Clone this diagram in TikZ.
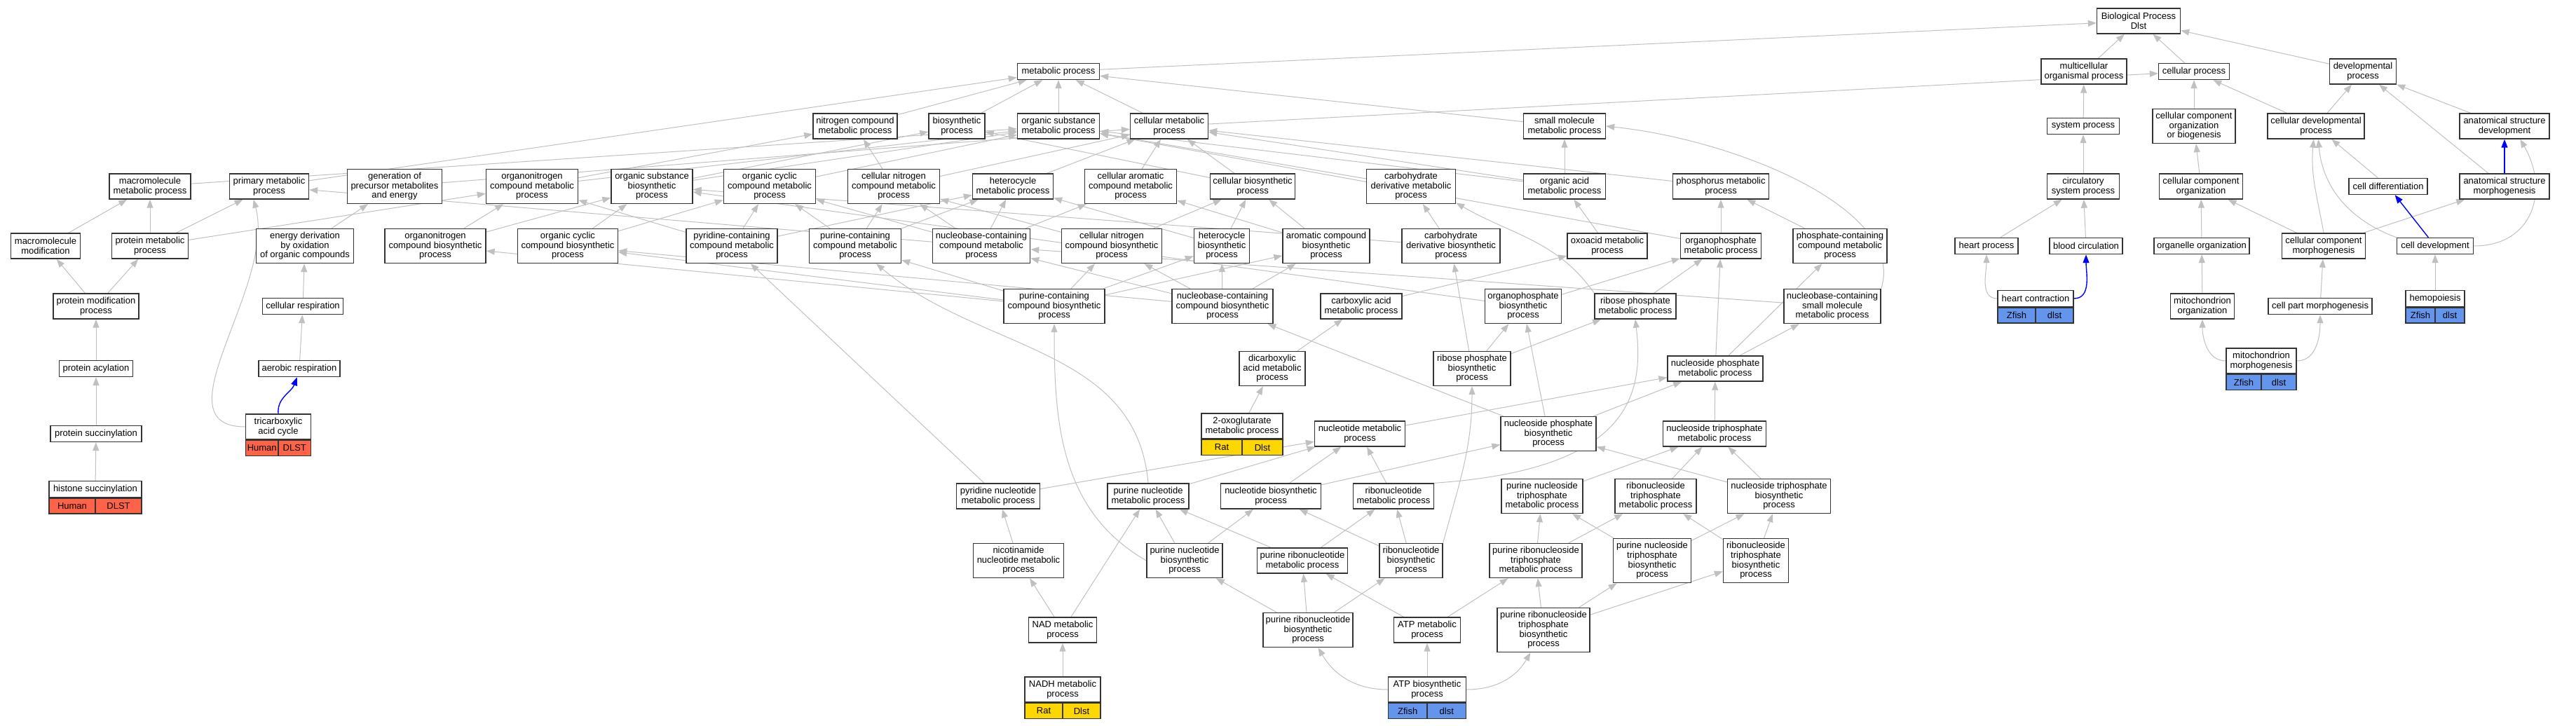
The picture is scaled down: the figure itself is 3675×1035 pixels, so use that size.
\documentclass[tikz,border=0pt]{standalone}
\usepackage{fontspec}
\setmainfont{Liberation Sans}
\usetikzlibrary{arrows.meta,backgrounds,positioning}

\definecolor{humanred}{HTML}{FF6347}
\definecolor{ratgold}{HTML}{FFD700}
\definecolor{zfishblue}{HTML}{6495ED}
\definecolor{edgegray}{HTML}{C0C0C0}
\newcommand\gofont{\fontsize{6.5}{6.8}\selectfont}

\tikzset{
  term/.style={draw=black!80, line width=0.7pt, fill=white, align=center, inner sep=0pt, font=\gofont},
  wd/.style={minimum width=#1*0.5pt},
  l1/.style={minimum height=11.5pt},
  l2/.style={minimum height=18pt},
  l3/.style={minimum height=24.5pt},
  l4/.style={minimum height=31.5pt},
  genecell/.style={term, minimum height=11pt},
  human/.style={genecell, fill=humanred},
  rat/.style={genecell, fill=ratgold},
  zfish/.style={genecell, fill=zfishblue},
  isa/.style={draw=edgegray, line width=0.5pt, -{Triangle[length=6pt,width=4.5pt]}},
  partof/.style={draw=blue, line width=0.7pt, -{Triangle[length=6pt,width=4.5pt]}},
}

\begin{document}
\begin{tikzpicture}[x=0.5pt, y=-0.5pt]
\useasboundingbox (0,0) rectangle (3675,1035);

% top
\node[term, wd=119, l2] (bp) at (3051,30) {Biological Process\\Dlst};
\node[term, wd=117, l1] (metab) at (1510,102) {metabolic process};
\node[term, wd=122, l2] (multi) at (2973,102) {multicellular\\organismal process};
\node[term, wd=101, l1] (cellp) at (3130,102) {cellular process};
\node[term, wd=95, l2] (devp) at (3371,102) {developmental\\process};

\node[term, wd=120, l2] (nitro) at (1220,180) {nitrogen compound\\metabolic process};
\node[term, wd=80, l2] (biosyn) at (1365,180) {biosynthetic\\process};
\node[term, wd=117, l2] (orgsub) at (1510,180) {organic substance\\metabolic process};
\node[term, wd=111, l2] (cellmet) at (1668,180) {cellular metabolic\\process};
\node[term, wd=117, l2] (smallmol) at (2232,180) {small molecule\\metabolic process};
\node[term, wd=103, l1] (sysp) at (2972,180) {system process};
\node[term, wd=118, l3] (ccob) at (3130,180) {cellular component\\organization\\or biogenesis};
\node[term, wd=138, l2] (celldev) at (3304,180) {cellular developmental\\process};
\node[term, wd=128, l2] (asdev) at (3573,180) {anatomical structure\\development};

\node[term, wd=116, l2] (macro) at (214,266) {macromolecule\\metabolic process};
\node[term, wd=113, l2] (primary) at (384,266) {primary metabolic\\process};
\node[term, wd=135, l3] (genprec) at (563,266) {generation of\\precursor metabolites\\and energy};
\node[term, wd=131, l3] (orgnmet) at (759,266) {organonitrogen\\compound metabolic\\process};
\node[term, wd=116, l3] (orgsubbio) at (930,266) {organic substance\\biosynthetic\\process};
\node[term, wd=131, l3] (orgcycmet) at (1098,266) {organic cyclic\\compound metabolic\\process};
\node[term, wd=131, l3] (cnitmet) at (1275,266) {cellular nitrogen\\compound metabolic\\process};
\node[term, wd=115, l2] (hetmet) at (1445,266) {heterocycle\\metabolic process};
\node[term, wd=131, l3] (caromet) at (1613,266) {cellular aromatic\\compound metabolic\\process};
\node[term, wd=121, l2] (cellbio) at (1787,266) {cellular biosynthetic\\process};
\node[term, wd=127, l3] (carbmet) at (2013,266) {carbohydrate\\derivative metabolic\\process};
\node[term, wd=117, l2] (orgacid) at (2232,266) {organic acid\\metabolic process};
\node[term, wd=137, l2] (phosmet) at (2455,266) {phosphorus metabolic\\process};
\node[term, wd=103, l2] (circ) at (2972,266) {circulatory\\system process};
\node[term, wd=119, l2] (ccorg) at (3140,266) {cellular component\\organization};
\node[term, wd=112, l1] (celldiff) at (3407,266) {cell differentiation};
\node[term, wd=128, l2] (asmorph) at (3573,266) {anatomical structure\\morphogenesis};

\node[term, wd=99, l2] (macromod) at (65,351) {macromolecule\\modification};
\node[term, wd=109, l2] (protmet) at (214,351) {protein metabolic\\process};
\node[term, wd=139, l3] (energy) at (435,351) {energy derivation\\by oxidation\\of organic compounds};
\node[term, wd=144, l3] (orgnbio) at (621,351) {organonitrogen\\compound biosynthetic\\process};
\node[term, wd=143, l3] (orgcycbio) at (810,351) {organic cyclic\\compound biosynthetic\\process};
\node[term, wd=130, l3] (pyrcont) at (1044,351) {pyridine-containing\\compound metabolic\\process};
\node[term, wd=131, l3] (purcont) at (1220,351) {purine-containing\\compound metabolic\\process};
\node[term, wd=139, l3] (nbcmet) at (1400,351) {nucleobase-containing\\compound metabolic\\process};
\node[term, wd=143, l3] (cnitbio) at (1586,351) {cellular nitrogen\\compound biosynthetic\\process};
\node[term, wd=79, l3] (hetbio) at (1743,351) {heterocycle\\biosynthetic\\process};
\node[term, wd=124, l3] (arobio) at (1892,351) {aromatic compound\\biosynthetic\\process};
\node[term, wd=140, l3] (carbbio) at (2070,351) {carbohydrate\\derivative biosynthetic\\process};
\node[term, wd=114, l2] (oxo) at (2293,351) {oxoacid metabolic\\process};
\node[term, wd=115, l2] (orgphmet) at (2455,351) {organophosphate\\metabolic process};
\node[term, wd=134, l3] (phcont) at (2625,351) {phosphate-containing\\compound metabolic\\process};
\node[term, wd=90, l1] (heartp) at (2834,351) {heart process};
\node[term, wd=104, l1] (bloodc) at (2976,351) {blood circulation};
\node[term, wd=136, l1] (orgorg) at (3141,351) {organelle organization};
\node[term, wd=119, l2] (ccmorph) at (3315,351) {cellular component\\morphogenesis};
\node[term, wd=109, l1] (celldevt) at (3474,351) {cell development};

\node[term, wd=122, l2] (protmod) at (137,437) {protein modification\\process};
\node[term, wd=115, l1] (cresp) at (432,437) {cellular respiration};
\node[term, wd=144, l3] (purcbio) at (1504,437) {purine-containing\\compound biosynthetic\\process};
\node[term, wd=144, l3] (nbcbio) at (1744,437) {nucleobase-containing\\compound biosynthetic\\process};
\node[term, wd=116, l2] (carbox) at (1942,437) {carboxylic acid\\metabolic process};
\node[term, wd=109, l3] (orgphbio) at (2173,437) {organophosphate\\biosynthetic\\process};
\node[term, wd=116, l2] (ribpmet) at (2333,437) {ribose phosphate\\metabolic process};
\node[term, wd=138, l3] (nbsmall) at (2614,437) {nucleobase-containing\\small molecule\\metabolic process};
\node[term, wd=108, l1] (heartc) at (2904,426) {heart contraction};
\node[zfish, wd=54, anchor=north west] (heartcA) at (heartc.south west) {Zfish};
\node[zfish, wd=54, anchor=north east] (heartcB) at (heartc.south east) {dlst};
\node[term, wd=91, l2] (mitoorg) at (3142,437) {mitochondrion\\organization};
\node[term, wd=148, l1] (cpmorph) at (3310,437) {cell part morphogenesis};
\node[term, wd=84, l1] (hemo) at (3474,426) {hemopoiesis};
\node[zfish, wd=42, anchor=north west] (hemoA) at (hemo.south west) {Zfish};
\node[zfish, wd=42, anchor=north east] (hemoB) at (hemo.south east) {dlst};

\node[term, wd=105, l1] (protacyl) at (137,526) {protein acylation};
\node[term, wd=116, l1] (aerob) at (427,526) {aerobic respiration};
\node[term, wd=94, l3] (dicarb) at (1815,526) {dicarboxylic\\acid metabolic\\process};
\node[term, wd=110, l3] (ribpbio) at (2100,526) {ribose phosphate\\biosynthetic\\process};
\node[term, wd=136, l2] (nsphmet) at (2447,526) {nucleoside phosphate\\metabolic process};
\node[term, wd=100, l2] (mitomorph) at (3226,515) {mitochondrion\\morphogenesis};
\node[zfish, wd=50, anchor=north west] (mitomorphA) at (mitomorph.south west) {Zfish};
\node[zfish, wd=50, anchor=north east] (mitomorphB) at (mitomorph.south east) {dlst};

\node[term, wd=130, l1] (protsucc) at (137,619) {protein succinylation};
\node[term, wd=93, l2] (tca) at (397,609) {tricarboxylic\\acid cycle};
\node[human, wd=46.5, anchor=north west] (tcaA) at (tca.south west) {Human};
\node[human, wd=46.5, anchor=north east] (tcaB) at (tca.south east) {DLST};
\node[term, wd=116, l2] (oxoglu) at (1772,608) {2-oxoglutarate\\metabolic process};
\node[rat, wd=58, anchor=north west] (oxogluA) at (oxoglu.south west) {Rat};
\node[rat, wd=58, anchor=north east] (oxogluB) at (oxoglu.south east) {Dlst};
\node[term, wd=129, l2] (nucmet) at (1940,619) {nucleotide metabolic\\process};
\node[term, wd=136, l3] (nsphbio) at (2209,619) {nucleoside phosphate\\biosynthetic\\process};
\node[term, wd=147, l2] (ntpmet) at (2446,619) {nucleoside triphosphate\\metabolic process};

\node[term, wd=132, l1] (histsucc) at (136,698) {histone succinylation};
\node[human, wd=66, anchor=north west] (histsuccA) at (histsucc.south west) {Human};
\node[human, wd=66, anchor=north east] (histsuccB) at (histsucc.south east) {DLST};
\node[term, wd=119, l2] (pyrnuc) at (1424,708) {pyridine nucleotide\\metabolic process};
\node[term, wd=116, l2] (purnucmet) at (1638,708) {purine nucleotide\\metabolic process};
\node[term, wd=143, l2] (nucbio) at (1813,708) {nucleotide biosynthetic\\process};
\node[term, wd=115, l2] (ribnucmet) at (1988,708) {ribonucleotide\\metabolic process};
\node[term, wd=116, l3] (purntpmet) at (2200,708) {purine nucleoside\\triphosphate\\metabolic process};
\node[term, wd=116, l3] (ribntpmet) at (2362,708) {ribonucleoside\\triphosphate\\metabolic process};
\node[term, wd=147, l3] (ntpbio) at (2538,708) {nucleoside triphosphate\\biosynthetic\\process};

\node[term, wd=129, l3] (nicot) at (1453,800) {nicotinamide\\nucleotide metabolic\\process};
\node[term, wd=108, l3] (purnucbio) at (1690,800) {purine nucleotide\\biosynthetic\\process};
\node[term, wd=129, l2] (purribmet) at (1858,800) {purine ribonucleotide\\metabolic process};
\node[term, wd=90, l3] (ribnucbio) at (2013,800) {ribonucleotide\\biosynthetic\\process};
\node[term, wd=132, l3] (purrntpmet) at (2191,800) {purine ribonucleoside\\triphosphate\\metabolic process};
\node[term, wd=111, l4] (purntpbio) at (2357,800) {purine nucleoside\\triphosphate\\biosynthetic\\process};
\node[term, wd=93, l4] (ribntpbio) at (2505,800) {ribonucleoside\\triphosphate\\biosynthetic\\process};

\node[term, wd=97, l2] (nad) at (1516,899) {NAD metabolic\\process};
\node[term, wd=128, l3] (purribbio) at (1866,899) {purine ribonucleotide\\biosynthetic\\process};
\node[term, wd=95, l2] (atpmet) at (2036,899) {ATP metabolic\\process};
\node[term, wd=132, l4] (purrntpbio) at (2202,899) {purine ribonucleoside\\triphosphate\\biosynthetic\\process};

\node[term, wd=108, l2] (nadh) at (1516,984) {NADH metabolic\\process};
\node[rat, wd=54, anchor=north west] (nadhA) at (nadh.south west) {Rat};
\node[rat, wd=54, anchor=north east] (nadhB) at (nadh.south east) {Dlst};
\node[term, wd=111, l2] (atpbio) at (2036,984) {ATP biosynthetic\\process};
\node[zfish, wd=55.5, anchor=north west] (atpbioA) at (atpbio.south west) {Zfish};
\node[zfish, wd=55.5, anchor=north east] (atpbioB) at (atpbio.south east) {dlst};

\begin{scope}[on background layer]
\foreach \a/\b in {
  metab/bp, multi/bp, cellp/bp, devp/bp,
  nitro/metab, biosyn/metab, orgsub/metab, cellmet/metab, primary/metab, smallmol/metab,
  cellmet/cellp, sysp/multi, ccob/cellp, celldev/cellp, celldev/devp, asdev/devp, asmorph/devp,
  orgnmet/nitro, cnitmet/nitro, orgsubbio/biosyn, cellbio/biosyn,
  macro/orgsub, orgnmet/orgsub, orgsubbio/orgsub, orgcycmet/orgsub, carbmet/orgsub, orgacid/orgsub, orgphmet/orgsub,
  cnitmet/cellmet, hetmet/cellmet, caromet/cellmet, cellbio/cellmet, genprec/cellmet, orgacid/cellmet, phosmet/cellmet,
  orgacid/smallmol, circ/sysp, ccorg/ccob, celldiff/celldev,
  macromod/macro, protmet/macro, protmet/primary, nbcmet/primary, energy/genprec,
  protmet/orgnmet, orgnbio/orgnmet, pyrcont/orgnmet,
  orgnbio/orgsubbio, orgcycbio/orgsubbio, carbbio/orgsubbio, orgphbio/orgsubbio,
  orgcycbio/orgcycmet, pyrcont/orgcycmet, purcont/orgcycmet, nbcmet/orgcycmet,
  purcont/cnitmet, nbcmet/cnitmet, cnitbio/cnitmet,
  pyrcont/hetmet, purcont/hetmet, nbcmet/hetmet, hetbio/hetmet,
  nbcmet/caromet, arobio/caromet,
  cnitbio/cellbio, hetbio/cellbio, arobio/cellbio,
  carbbio/carbmet, oxo/orgacid, orgphmet/phosmet, phcont/phosmet,
  heartp/circ, bloodc/circ, orgorg/ccorg, ccmorph/ccorg, ccmorph/asmorph,
  protmod/macromod, protmod/protmet, cresp/energy,
  purcbio/orgnbio, purcbio/orgcycbio, nbcbio/orgcycbio, purcbio/purcont, pyrnuc/pyrcont,
  nbcbio/nbcmet, nbsmall/nbcmet, purcbio/cnitbio, nbcbio/cnitbio, purcbio/hetbio, nbcbio/hetbio,
  purcbio/arobio, nbcbio/arobio, carbox/oxo,
  orgphbio/orgphmet, ribpmet/orgphmet, nsphmet/orgphmet, nsphmet/phcont,
  mitoorg/orgorg, cpmorph/ccmorph, hemo/celldevt,
  protacyl/protmod, aerob/cresp, nsphbio/nbcbio, dicarb/carbox,
  ribpbio/orgphbio, nsphbio/orgphbio, ribpbio/ribpmet, nsphmet/nbsmall, ribpbio/carbbio,
  protsucc/protacyl, oxoglu/dicarb,
  nucmet/nsphmet, nsphbio/nsphmet, ntpmet/nsphmet,
  histsucc/protsucc,
  pyrnuc/nucmet, purnucmet/nucmet, nucbio/nucmet, ribnucmet/nucmet,
  nucbio/nsphbio, ntpbio/nsphbio,
  purntpmet/ntpmet, ribntpmet/ntpmet, ntpbio/ntpmet,
  nicot/pyrnuc, purnucbio/purnucmet, purribmet/purnucmet, nad/purnucmet,
  purnucbio/nucbio, ribnucbio/nucbio, purribmet/ribnucmet, ribnucbio/ribnucmet,
  purrntpmet/purntpmet, purntpbio/purntpmet, purrntpmet/ribntpmet, ribntpbio/ribntpmet,
  purntpbio/ntpbio, ribntpbio/ntpbio,
  nad/nicot, purribbio/purnucbio, purribbio/purribmet, atpmet/purribmet, purribbio/ribnucbio,
  purrntpbio/purrntpmet, atpmet/purrntpmet, purrntpbio/purntpbio, purrntpbio/ribntpbio,
  nadh/nad, atpbio/atpmet}
  \draw[isa] (\a) -- (\b);

% curved ones
\draw[isa] (tca.west) to[out=180,in=-75] (primary.-140);
\draw[isa] (heartc.west) to[out=180,in=-90] (heartp.south);
\draw[isa] (mitomorph.west) to[out=180,in=-90] (mitoorg.south);
\draw[isa] (mitomorph.east) to[out=0,in=-90] (cpmorph.south);
\draw[isa] (atpbio.west) to[out=180,in=-60] (purribbio.-60);
\draw[isa] (atpbio.east) to[out=0,in=-120] (purrntpbio.-120);
\draw[isa] (nbsmall.north east) .. controls (2720,300) and (2480,200) .. (smallmol.east);
\draw[isa] (ribnucmet.north east) .. controls (2330,670) and (2345,560) .. (ribpmet.south);
\draw[isa] (ribnucbio.north east) to[out=75,in=-90] (ribpbio.south);
\draw[isa] (purnucbio.west) to[out=150,in=-90] (purcbio.south);
\draw[isa] (purnucmet.north) to[out=95,in=-40] (purcont.-40);
\draw[isa] (ribpmet.north west) to[out=125,in=-30] (carbmet.-20);
\draw[isa] (ccmorph.north) to[out=100,in=-95] (celldev.-100);
\draw[isa] (celldevt.north west) to[out=160,in=-85] (celldev.-80);
\draw[isa] (celldevt.east) to[out=0,in=-60,looseness=1.3] (asdev.-40);
\draw[partof] (tca.north) to[out=95,in=-110] (aerob.-105);
\draw[partof] (heartc.east) to[out=0,in=-90] (bloodc.south);
\draw[partof] (celldevt) -- (celldiff);
\draw[partof] (asmorph) -- (asdev);
\end{scope}
\end{tikzpicture}
\end{document}
